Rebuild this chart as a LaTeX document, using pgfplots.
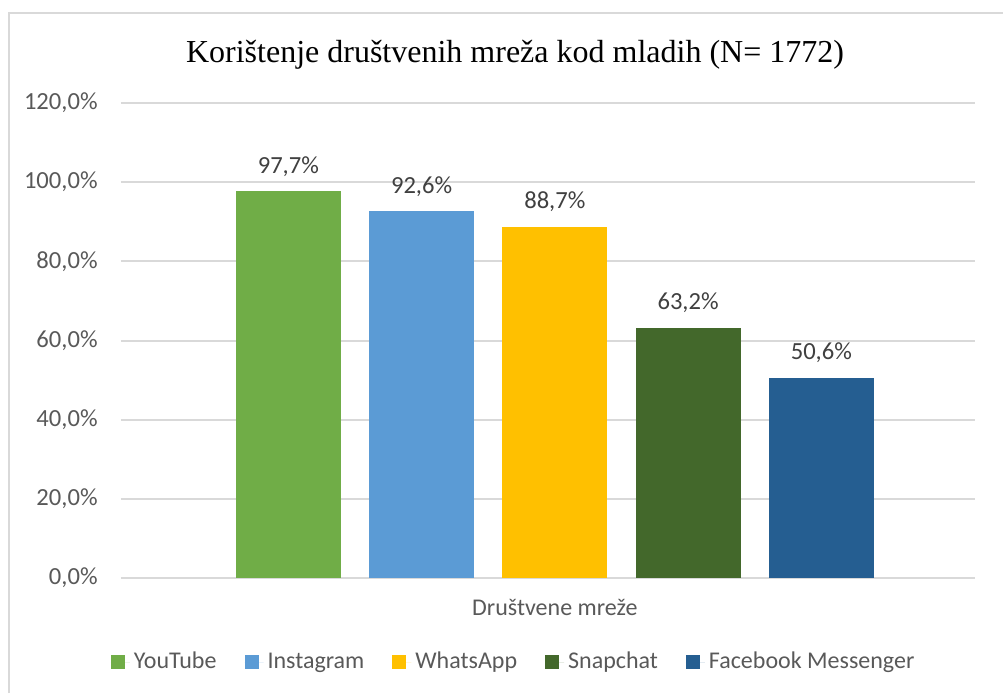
\documentclass[border=0pt]{standalone}
\usepackage{pgfplots}
\pgfplotsset{compat=1.18}
\usepackage{fontspec}
\setmainfont{Carlito}
\newfontfamily\titlefont{Liberation Serif}
\definecolor{cYT}{HTML}{70AD47}
\definecolor{cIG}{HTML}{5B9BD5}
\definecolor{cWA}{HTML}{FFC000}
\definecolor{cSC}{HTML}{43682B}
\definecolor{cFB}{HTML}{255E91}
\definecolor{gridc}{HTML}{D9D9D9}
\definecolor{txt}{HTML}{595959}
\definecolor{lbl}{HTML}{404040}
\begin{document}
\begin{tikzpicture}
\useasboundingbox (0,0) rectangle (501.5pt,346.5pt);
\draw[gridc, line width=1pt] (4.5pt,0pt) -- (4.5pt,340pt) -- (510pt,340pt);
\node[font=\titlefont\fontsize{16}{19}\selectfont, anchor=center] at (257.5pt,319pt) {Korištenje društvenih mreža kod mladih (N= 1772)};
\begin{axis}[
  at={(60.5pt,57.5pt)}, anchor=south west,
  scale only axis, width=427pt, height=237.5pt,
  xmin=-1.256, xmax=5.153, ymin=0, ymax=120,
  ytick={0,20,40,60,80,100,120},
  yticklabels={{0,0\%},{20,0\%},{40,0\%},{60,0\%},{80,0\%},{100,0\%},{120,0\%}},
  xtick=\empty,
  major tick length=0pt,
  axis line style={draw=none},
  ymajorgrids, grid style={gridc, line width=1pt},
  yticklabel style={font=\fontsize{12.3}{14}\selectfont, text=txt, anchor=east, inner sep=0pt, xshift=-11.5pt},
  xlabel={Društvene mreže},
  xlabel style={at={(axis description cs:0.508,0)}, anchor=center, yshift=-14.5pt, font=\fontsize{12}{14}\selectfont, text=txt, inner sep=0pt},
  nodes near coords={\pgfmathprintnumber[fixed,fixed zerofill,precision=1,use comma,assume math mode=true]{\pgfplotspointmeta}\%},
  nodes near coords style={font=\fontsize{12.3}{14}\selectfont, text=lbl, anchor=base, inner sep=0pt, yshift=9pt},
  legend columns=-1,
  legend style={at={(axis description cs:0.461,0)}, anchor=center, yshift=-42pt, draw=none, fill=none,
    font=\fontsize{12}{14}\selectfont, text=txt,
    /tikz/every even column/.append style={column sep=12pt},
    /tikz/every odd column/.append style={column sep=0pt}},
  legend image code/.code={\fill[#1] (0pt,-3.5pt) rectangle (7pt,3.5pt); \path (0pt,0pt) -- (9.5pt,0pt);},
]
\addplot[ybar, bar shift=0pt, bar width=0.788, fill=cYT, draw=none] coordinates {(0,97.7)};
\addlegendentry{YouTube}
\addplot[ybar, bar shift=0pt, bar width=0.788, fill=cIG, draw=none] coordinates {(1,92.6)};
\addlegendentry{Instagram}
\addplot[ybar, bar shift=0pt, bar width=0.788, fill=cWA, draw=none] coordinates {(2,88.7)};
\addlegendentry{WhatsApp}
\addplot[ybar, bar shift=0pt, bar width=0.788, fill=cSC, draw=none] coordinates {(3,63.2)};
\addlegendentry{Snapchat}
\addplot[ybar, bar shift=0pt, bar width=0.788, fill=cFB, draw=none] coordinates {(4,50.6)};
\addlegendentry{Facebook Messenger}
\end{axis}
\end{tikzpicture}
\end{document}
